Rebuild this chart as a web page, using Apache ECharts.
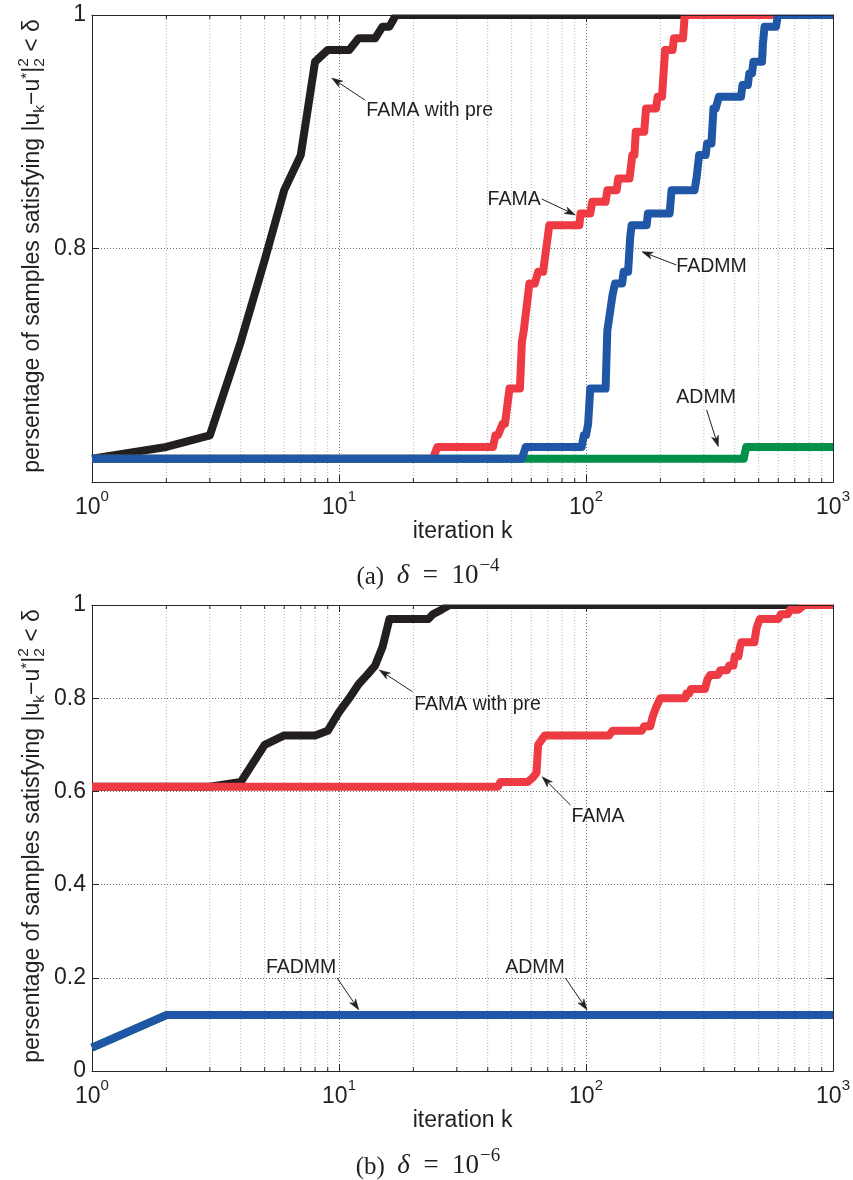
<!DOCTYPE html>
<html>
<head>
<meta charset="utf-8">
<title>Convergence of FAMA / FADMM / ADMM</title>
<script src="https://cdn.jsdelivr.net/npm/echarts@6.0.0/dist/echarts.min.js"></script>
<style>
html,body{margin:0;padding:0;background:#ffffff;}
#chart{width:853px;height:1180px;}
</style>
</head>
<body>
<div id="chart"></div>
<script>
// ----------------------- data -----------------------
const xTickValues = [1, 10, 100, 1000];
const xMinorValues = [2,3,4,5,6,7,8,9,20,30,40,50,60,70,80,90,200,300,400,500,600,700,800,900];
const yRangeA = [0.6, 1];
const yRangeB = [0, 1];
const yStep = 0.2;
const captionTags = ['(a)', '(b)'];
const deltaExponents = ['\u22124', '\u22126'];
const xName = 'iteration k';

// (a) delta = 1e-4
const a_famaPre_k = [1,2,3,4,5,6,7,8,9,10,11,12,13,14,15,16,17,1000];
const a_famaPre_v = [0.62,0.63,0.64,0.72,0.79,0.85,0.88,0.96,0.97,0.97,0.97,0.98,0.98,0.98,0.99,0.99,1,1];

const a_fama_k = [1,24,25,42,43,44,46,47,49,54,55,56,57,59,62,64,67,69,71,94,95,104,106,120,122,133,135,150,154,157,159,172,175,192,195,203,209,224,227,247,251,1000];
const a_fama_v = [0.62,0.62,0.63,0.63,0.64,0.64,0.65,0.65,0.68,0.68,0.72,0.73,0.73,0.77,0.77,0.78,0.78,0.80,0.82,0.82,0.83,0.83,0.84,0.84,0.85,0.85,0.86,0.86,0.88,0.88,0.90,0.90,0.92,0.92,0.93,0.93,0.97,0.97,0.98,0.98,1,1];

const a_fadmm_k = [1,55,57,96,98,100,102,104,120,122,124,128,131,140,142,148,151,153,176,178,218,222,275,280,287,305,309,322,328,335,345,424,430,452,458,470,476,516,520,528,588,598,1000];
const a_fadmm_v = [0.62,0.62,0.63,0.63,0.64,0.64,0.65,0.68,0.68,0.73,0.74,0.76,0.77,0.77,0.78,0.78,0.81,0.82,0.82,0.83,0.83,0.85,0.85,0.86,0.88,0.88,0.89,0.89,0.92,0.92,0.93,0.93,0.94,0.94,0.95,0.95,0.96,0.96,0.975,0.99,0.99,1,1];

const a_admm_k = [1,435,445,1000];
const a_admm_v = [0.62,0.62,0.63,0.63];

// (b) delta = 1e-6
const b_famaPre_k = [1,3,4,5,6,8,9,10,11,12,13,14,15,16,23,24,26,28,1000];
const b_famaPre_v = [0.61,0.61,0.62,0.70,0.72,0.72,0.73,0.77,0.80,0.83,0.85,0.87,0.91,0.97,0.97,0.98,0.99,1,1];

const b_fama_k = [1,44,45,58,61,63,64,66,68,124,128,168,172,182,186,192,200,252,255,262,266,303,310,318,342,350,372,380,395,400,414,420,425,480,490,505,600,615,655,670,725,765,1000];
const b_fama_v = [0.61,0.61,0.62,0.62,0.63,0.64,0.70,0.71,0.72,0.72,0.73,0.73,0.74,0.74,0.76,0.78,0.80,0.80,0.81,0.81,0.82,0.82,0.84,0.85,0.85,0.86,0.86,0.87,0.87,0.89,0.89,0.91,0.92,0.92,0.95,0.97,0.97,0.98,0.98,0.99,0.99,1,1];

const b_fadmm_k = [1,2,1000];
const b_fadmm_v = [0.05,0.12,0.12];

const b_admm_k = [1,2,1000];
const b_admm_v = [0.05,0.12,0.12];

// annotation anchors in data coordinates: label position, arrow tail, arrow tip
const a_notes = [
  {text:'FAMA with pre', at:[12.9, 0.918], align:'left',  from:[12.77, 0.927], to:[9.34, 0.946]},
  {text:'FAMA',          at:[65.5, 0.8415], align:'right', from:[66.2, 0.8424], to:[90.6, 0.8287]},
  {text:'FADMM',         at:[232, 0.7844], align:'left',  from:[232, 0.7859], to:[168.3, 0.7973]},
  {text:'ADMM',          at:[232, 0.672],  align:'left',  from:[307.8, 0.6617], to:[343.3, 0.6302]}
];
const b_notes = [
  {text:'FAMA with pre', at:[20.15, 0.7854], align:'left', from:[19.83, 0.814], to:[14.55, 0.8605]},
  {text:'FAMA',          at:[87.3, 0.5457],  align:'left', from:[86.5, 0.5708], to:[66.4, 0.6316]},
  {text:'FADMM',         at:[5.06, 0.221],   align:'left', from:[9.83, 0.1996], to:[12.03, 0.131]},
  {text:'ADMM',          at:[47.1, 0.221],   align:'left', from:[82.5, 0.1996], to:[101, 0.131]}
];

// ----------------------- style -----------------------
const FONT = '"Liberation Sans", Arial, Helvetica, sans-serif';
const SERIF = '"Liberation Serif", "Times New Roman", serif';
const AX = '#262626';
const TXT = '#231f20';
const C_BLACK = '#231f20';
const C_RED = '#ee3a43';
const C_BLUE = '#1f56a6';
const C_GREEN = '#00904a';
const LW = 8;

const zip = (ks, vs) => ks.map((k, i) => [k, vs[i]]);

const chart = echarts.init(document.getElementById('chart'), null, {renderer:'canvas'});

const grids = [
  {left: 92, top: 15, width: 743, height: 467},
  {left: 92, top: 605, width: 743, height: 466}
];

function xAxisDef(gi, top) {
  const ax = {
    type: 'log', logBase: 10, min: xTickValues[0], max: xTickValues[xTickValues.length - 1],
    gridIndex: gi, position: top ? 'top' : 'bottom',
    axisLine: {show: true, onZero: false, lineStyle: {color: AX, width: 1}},
    axisTick: {show: true, inside: true, length: 7, lineStyle: {color: AX, width: 1}},
    splitLine: {show: !top, lineStyle: {color: '#6f6f6f', width: 1, type: [1, 2]}},
    axisLabel: {show: false},
    z: top ? 6 : 0
  };
  if (!top) {
    ax.axisLabel = {
      show: true, margin: 7,
      formatter: v => '{b|10}{s|' + Math.round(Math.log10(v)) + '}',
      rich: {
        b: {fontSize: 23, fontFamily: FONT, color: TXT, verticalAlign: 'bottom'},
        s: {fontSize: 15, fontFamily: FONT, color: TXT, verticalAlign: 'top', padding: [0, 0, 15, 0]}
      }
    };
    ax.name = xName;
    ax.nameLocation = 'middle';
    ax.nameGap = 36;
    ax.nameTextStyle = {fontSize: 23, fontFamily: FONT, color: TXT};
  }
  return ax;
}

function yAxisDef(gi, right, range) {
  return {
    type: 'value', gridIndex: gi, min: range[0], max: range[1], interval: yStep,
    position: right ? 'right' : 'left',
    axisLine: {show: true, onZero: false, lineStyle: {color: AX, width: 1}},
    axisTick: {show: true, inside: true, length: 7, lineStyle: {color: AX, width: 1}},
    splitLine: {show: !right, lineStyle: {color: '#6f6f6f', width: 1, type: [1, 2]}},
    axisLabel: right ? {show: false} : {
      show: true, margin: 6, fontSize: 23, fontFamily: FONT, color: TXT,
      formatter: v => (gi === 0 && Math.abs(v - range[0]) < 1e-9) ? '' : String(+v.toFixed(1))
    },
    z: right ? 6 : 0
  };
}

function lineSeries(name, ks, vs, color, gi) {
  return {
    type: 'line', name, xAxisIndex: gi * 2, yAxisIndex: gi * 2,
    data: zip(ks, vs), showSymbol: false, symbol: 'none',
    lineStyle: {color, width: LW, cap: 'butt', join: 'round'},
    itemStyle: {color}, clip: true, silent: true, z: 3
  };
}

function minorSeries(gi, range) {
  return {
    type: 'custom', xAxisIndex: gi * 2, yAxisIndex: gi * 2, silent: true, z: 1,
    data: xMinorValues.map(k => [k, range[0]]),
    renderItem: (params, api) => {
      const k = api.value(0);
      const p0 = api.coord([k, range[0]]);
      const p1 = api.coord([k, range[1]]);
      return {type: 'group', children: [
        {type: 'line', shape: {x1: p0[0], y1: p0[1], x2: p1[0], y2: p1[1]},
          style: {stroke: '#b4b4b4', lineWidth: 1, lineDash: [1, 2]}},
        {type: 'line', shape: {x1: p0[0], y1: p0[1], x2: p0[0], y2: p0[1] - 4},
          style: {stroke: AX, lineWidth: 1}},
        {type: 'line', shape: {x1: p1[0], y1: p1[1], x2: p1[0], y2: p1[1] + 4},
          style: {stroke: AX, lineWidth: 1}}
      ]};
    }
  };
}

function noteSeries(gi, notes) {
  return {
    type: 'custom', xAxisIndex: gi * 2, yAxisIndex: gi * 2, silent: true, z: 5,
    data: notes.map(n => n.to.slice()),
    renderItem: (params, api) => {
      const n = notes[params.dataIndex];
      const t = api.coord(n.at), a = api.coord(n.from), b = api.coord(n.to);
      let dx = b[0] - a[0], dy = b[1] - a[1];
      const len = Math.sqrt(dx * dx + dy * dy); dx /= len; dy /= len;
      const nx = -dy, ny = dx;
      const L = 11, W = 3.6, N = 8;
      const head = [
        [b[0], b[1]],
        [b[0] - dx * L + nx * W, b[1] - dy * L + ny * W],
        [b[0] - dx * N, b[1] - dy * N],
        [b[0] - dx * L - nx * W, b[1] - dy * L - ny * W]
      ];
      return {type: 'group', children: [
        {type: 'text', x: t[0], y: t[1], style: {text: n.text, font: '19.5px ' + FONT, fill: TXT, align: n.align, verticalAlign: 'middle'}},
        {type: 'line', shape: {x1: a[0], y1: a[1], x2: b[0] - dx * N, y2: b[1] - dy * N}, style: {stroke: TXT, lineWidth: 1}},
        {type: 'polygon', shape: {points: head}, style: {fill: TXT, stroke: TXT, lineWidth: 0.5}}
      ]};
    }
  };
}

// y-axis title with sub/superscripts, laid out as rotated text pieces
const mctx = document.createElement('canvas').getContext('2d');
function measure(txt, size) { mctx.font = size + 'px ' + FONT; return mctx.measureText(txt).width; }
function yTitle(cx, cy) {
  const big = 23, small = 15.5;
  const pieces = [
    ['persentage of samples satisfying |u', big, 0, true],
    ['k', small, 7, true],
    ['\u2212u', big, 0, true],
    ['*', small, -6, true],
    ['|', big, 0, true],
    ['2', small, -9, false],
    ['2', small, 7, true],
    [' < \u03b4', big, 0, true]
  ];
  const widths = pieces.map(p => measure(p[0], p[1]));
  let total = 0;
  pieces.forEach((p, i) => { if (p[3]) total += widths[i]; });
  let x = -total / 2;
  const children = pieces.map((p, i) => {
    const el = {type: 'text', x: x, y: p[2], style: {text: p[0], font: p[1] + 'px ' + FONT, fill: TXT, align: 'left', verticalAlign: 'middle'}};
    if (p[3]) x += widths[i];
    return el;
  });
  return {type: 'group', x: cx, y: cy, rotation: Math.PI / 2, children, silent: true};
}

function caption(i, cx, cy) {
  return {
    type: 'text', x: cx, y: cy, silent: true,
    style: {
      text: '{n|' + captionTags[i] + '\u2002}{i|\u03b4}{m|\u2002=\u2002}{m|10}{s|' + deltaExponents[i] + '}',
      align: 'center', verticalAlign: 'middle',
      rich: {
        n: {font: '25px ' + SERIF, fill: TXT, verticalAlign: 'bottom'},
        i: {font: 'italic 27px ' + SERIF, fill: TXT, verticalAlign: 'bottom'},
        m: {font: '27px ' + SERIF, fill: TXT, verticalAlign: 'bottom'},
        s: {font: '19px ' + SERIF, fill: TXT, verticalAlign: 'top', padding: [0, 0, 14, 1]}
      }
    }
  };
}

// white strips just above each plot box so that lines at 100% stay inside the frame
function topMask(g) {
  return {type: 'rect', silent: true, z: 4,
    shape: {x: g.left - 1, y: g.top - 7, width: g.width + 8, height: 6.5},
    style: {fill: '#ffffff'}};
}

const option = {
  animation: false,
  backgroundColor: '#ffffff',
  grid: grids,
  xAxis: [xAxisDef(0, false), xAxisDef(0, true), xAxisDef(1, false), xAxisDef(1, true)],
  yAxis: [yAxisDef(0, false, yRangeA), yAxisDef(0, true, yRangeA), yAxisDef(1, false, yRangeB), yAxisDef(1, true, yRangeB)],
  series: [
    minorSeries(0, yRangeA),
    minorSeries(1, yRangeB),
    lineSeries('FAMA with pre', a_famaPre_k, a_famaPre_v, C_BLACK, 0),
    lineSeries('FAMA', a_fama_k, a_fama_v, C_RED, 0),
    lineSeries('ADMM', a_admm_k, a_admm_v, C_GREEN, 0),
    lineSeries('FADMM', a_fadmm_k, a_fadmm_v, C_BLUE, 0),
    lineSeries('FAMA with pre', b_famaPre_k, b_famaPre_v, C_BLACK, 1),
    lineSeries('FAMA', b_fama_k, b_fama_v, C_RED, 1),
    lineSeries('ADMM', b_admm_k, b_admm_v, C_GREEN, 1),
    lineSeries('FADMM', b_fadmm_k, b_fadmm_v, C_BLUE, 1),
    noteSeries(0, a_notes),
    noteSeries(1, b_notes)
  ],
  graphic: [
    topMask(grids[0]),
    topMask(grids[1]),
    yTitle(33, 246),
    yTitle(33, 836),
    caption(0, 428, 573),
    caption(1, 428, 1163)
  ]
};
chart.setOption(option);
</script>
</body>
</html>
